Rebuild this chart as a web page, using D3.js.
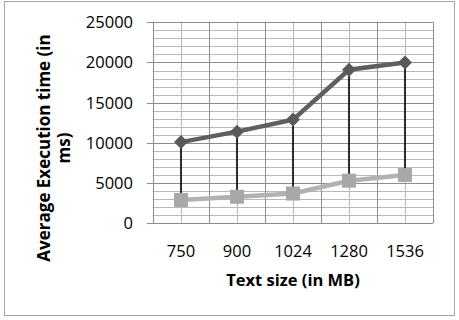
<!DOCTYPE html>
<html>
<head>
<meta charset="utf-8">
<script src="https://cdn.jsdelivr.net/npm/d3@7"></script>
<style>
html,body{margin:0;padding:0;background:#fff;}
svg{display:block;}
text{font-family:"Open Sans",sans-serif;fill:#000;}
</style>
</head>
<body>
<svg id="chart" width="459" height="320"></svg>
<script>
const categories = ["750", "900", "1024", "1280", "1536"];
const seriesHigh = [10100, 11400, 12900, 19100, 20000];
const seriesLow = [2900, 3300, 3700, 5300, 6000];
const yTicks = [0, 5000, 10000, 15000, 20000, 25000];
const minorTicks = [1000, 2000, 3000, 4000, 6000, 7000, 8000, 9000, 11000, 12000, 13000, 14000,
  16000, 17000, 18000, 19000, 21000, 22000, 23000, 24000];
const xTitle = "Text size (in MB)";
const yTitleLines = ["Average Execution time (in", "ms)"];

const svg = d3.select("#chart");
const m = {left: 153, top: 22.3, right: 433, bottom: 223.3};

svg.append("rect").attr("x", 4.5).attr("y", 1.5).attr("width", 450).attr("height", 314)
  .attr("fill", "#fff").attr("stroke", "#a6a6a6").attr("stroke-width", 1);

const x = d3.scaleBand().domain(categories).range([m.left, m.right]).padding(0);
const y = d3.scaleLinear().domain([0, 25000]).range([m.bottom, m.top]);
const cx = c => x(c) + x.bandwidth() / 2;

const grid = svg.append("g").attr("class", "grid");

minorTicks.forEach(v => {
  const yy = Math.round(y(v)) + 0.5;
  grid.append("line").attr("x1", m.left).attr("x2", m.right).attr("y1", yy).attr("y2", yy)
    .attr("stroke", "#b8b8b8").attr("stroke-width", 1);
});
categories.forEach(c => {
  const xx = Math.round(cx(c)) + 0.5;
  grid.append("line").attr("x1", xx).attr("x2", xx).attr("y1", m.top).attr("y2", m.bottom)
    .attr("stroke", "#b8b8b8").attr("stroke-width", 1);
});
const bounds = categories.map(c => x(c)).concat([m.right]);
bounds.forEach(b => {
  const xx = Math.round(b) + 0.5;
  grid.append("line").attr("x1", xx).attr("x2", xx).attr("y1", m.top).attr("y2", m.bottom)
    .attr("stroke", "#8c8c8c").attr("stroke-width", 1);
});
yTicks.forEach(v => {
  const yy = Math.round(y(v)) + 0.5;
  grid.append("line").attr("x1", m.left - 6).attr("x2", m.right).attr("y1", yy).attr("y2", yy)
    .attr("stroke", "#8c8c8c").attr("stroke-width", 1);
});

svg.selectAll("text.ylab").data(yTicks).join("text").attr("class", "ylab")
  .attr("x", 133).attr("y", d => y(d)).attr("dy", "0.36em")
  .attr("text-anchor", "end").attr("font-size", 16.5).text(d => d);

svg.selectAll("text.xlab").data(categories).join("text").attr("class", "xlab")
  .attr("x", d => cx(d)).attr("y", 256.5)
  .attr("text-anchor", "middle").attr("font-size", 16.5).text(d => d);

svg.append("text").attr("x", (m.left + m.right) / 2).attr("y", 286)
  .attr("text-anchor", "middle").attr("font-size", 16.5).attr("font-weight", "bold").text(xTitle);
const yt = svg.append("text").attr("transform", "translate(50,148) rotate(-90)")
  .attr("text-anchor", "middle").attr("font-size", 17).attr("font-weight", "bold");
yTitleLines.forEach((t, i) => {
  yt.append("tspan").attr("x", 0).attr("y", i * 20).text(t);
});

const g = svg.append("g").attr("class", "marks");
g.selectAll("line.hl").data(categories).join("line").attr("class", "hl")
  .attr("x1", d => cx(d)).attr("x2", d => cx(d))
  .attr("y1", (d, i) => y(seriesHigh[i])).attr("y2", (d, i) => y(seriesLow[i]))
  .attr("stroke", "#000").attr("stroke-width", 1.6);

const line = d3.line().x((d, i) => cx(categories[i])).y(d => y(d));

g.append("path").datum(seriesLow).attr("d", line)
  .attr("fill", "none").attr("stroke", "#b2b2b2").attr("stroke-width", 4.5);
g.selectAll("rect.sq").data(seriesLow).join("rect").attr("class", "sq")
  .attr("x", (d, i) => cx(categories[i]) - 7).attr("y", d => y(d) - 7)
  .attr("width", 14).attr("height", 14).attr("fill", "#a8a8a8");

g.append("path").datum(seriesHigh).attr("d", line)
  .attr("fill", "none").attr("stroke", "#5f5f5f").attr("stroke-width", 4.5);
g.selectAll("path.dm").data(seriesHigh).join("path").attr("class", "dm")
  .attr("d", (d, i) => {
    const px = cx(categories[i]), py = y(d), r = 7;
    return `M${px},${py - r}L${px + r},${py}L${px},${py + r}L${px - r},${py}Z`;
  })
  .attr("fill", "#595959");
</script>
</body>
</html>
